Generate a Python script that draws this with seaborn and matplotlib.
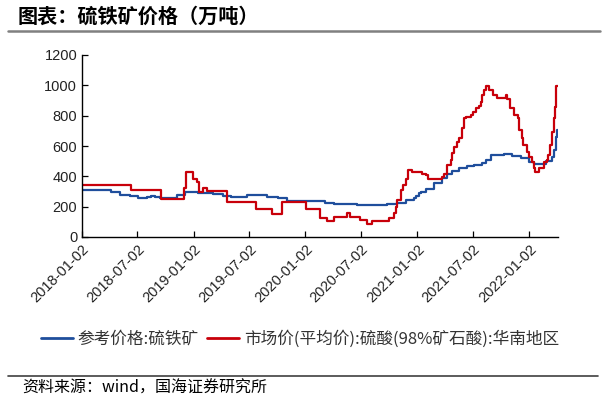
import matplotlib
matplotlib.use("Agg")
import matplotlib.pyplot as plt
import matplotlib.dates as mdates
from matplotlib.lines import Line2D
import pandas as pd
import seaborn as sns

# 参考价格:硫铁矿 (step breakpoints)
pyrite_dates = [
    "2018-01-02", "2018-04-08", "2018-05-05", "2018-06-07", "2018-07-04", "2018-08-01",
    "2018-08-17", "2018-08-27", "2018-09-13", "2018-11-08", "2018-12-04", "2019-01-17",
    "2019-02-07", "2019-03-05", "2019-04-07", "2019-05-05", "2019-06-24", "2019-08-30",
    "2019-10-05", "2019-11-02", "2020-01-07", "2020-03-06", "2020-04-03", "2020-06-19",
    "2020-09-26", "2020-10-28", "2020-11-25", "2020-12-22", "2020-12-28", "2021-01-08",
    "2021-01-14", "2021-01-30", "2021-02-26", "2021-03-23", "2021-04-09", "2021-04-25",
    "2021-05-17", "2021-06-14", "2021-07-05", "2021-08-02", "2021-08-13", "2021-08-29",
    "2021-10-11", "2021-11-07", "2021-12-05", "2022-01-02", "2022-01-19", "2022-02-27",
    "2022-03-19", "2022-03-23", "2022-03-29", "2022-04-04", "2022-04-06",
]
pyrite_values = [
    312, 297, 279, 270, 260, 266,
    270, 264, 255, 277, 295, 292,
    287, 281, 272, 266, 275, 266,
    255, 240, 237, 226, 217, 211,
    217, 226, 245, 255, 270, 288,
    299, 314, 354, 387, 415, 435,
    452, 468, 475, 490, 508, 540,
    547, 536, 518, 492, 483, 503,
    525, 573, 661, 705, 705,
]

# 市场价(平均价):硫酸(98%矿石酸):华南地区
acid_dates = [
    "2018-01-02", "2018-06-10", "2018-09-17", "2018-12-01", "2018-12-08", "2019-01-01",
    "2019-01-12", "2019-01-20", "2019-02-01", "2019-02-14", "2019-04-22", "2019-07-26",
    "2019-09-14", "2019-10-17", "2020-01-04", "2020-02-20", "2020-03-14", "2020-04-03",
    "2020-05-17", "2020-05-27", "2020-06-27", "2020-07-21", "2020-08-07", "2020-10-01",
    "2020-10-17", "2020-10-23", "2020-10-28", "2020-11-08", "2020-11-17", "2020-11-25",
    "2020-12-01", "2020-12-14", "2020-12-28", "2021-01-18", "2021-01-30", "2021-02-05",
    "2021-03-23", "2021-03-29", "2021-04-09", "2021-04-20", "2021-04-25", "2021-05-01",
    "2021-05-12", "2021-05-17", "2021-05-28", "2021-06-03", "2021-06-09", "2021-06-25",
    "2021-07-01", "2021-07-11", "2021-07-22", "2021-07-27", "2021-08-02", "2021-08-07",
    "2021-08-13", "2021-08-24", "2021-09-07", "2021-09-18", "2021-10-17", "2021-10-23",
    "2021-10-31", "2021-11-13", "2021-11-25", "2021-11-29", "2021-12-08", "2021-12-14",
    "2021-12-25", "2022-01-02", "2022-01-10", "2022-01-17", "2022-01-21", "2022-02-04",
    "2022-02-19", "2022-03-01", "2022-03-05", "2022-03-10", "2022-03-16", "2022-03-23",
    "2022-03-27", "2022-03-31", "2022-04-06",
]
acid_values = [
    345, 312, 250, 320, 430, 380,
    360, 300, 320, 303, 230, 182,
    154, 233, 185, 123, 107, 134,
    160, 130, 112, 86, 105, 123,
    156, 200, 244, 310, 345, 380,
    440, 430, 426, 415, 409, 382,
    393, 413, 475, 508, 552, 596,
    628, 650, 720, 782, 793, 804,
    826, 852, 866, 892, 936, 969,
    995, 969, 936, 914, 936, 910,
    848, 804, 782, 705, 650, 606,
    562, 529, 492, 457, 426, 457,
    492, 508, 540, 606, 694, 782,
    859, 995, 995,
]

series_names = ["参考价格:硫铁矿", "市场价(平均价):硫酸(98%矿石酸):华南地区"]
series_colors = ["#1F4E9C", "#C8000A"]
tick_dates = ["2018-01-02", "2018-07-02", "2019-01-02", "2019-07-02", "2020-01-02",
              "2020-07-02", "2021-01-02", "2021-07-02", "2022-01-02"]
y_ticks = [0, 200, 400, 600, 800, 1000, 1200]

df = pd.concat([
    pd.DataFrame({"date": pd.to_datetime(pyrite_dates), "value": pyrite_values, "series": series_names[0]}),
    pd.DataFrame({"date": pd.to_datetime(acid_dates), "value": acid_values, "series": series_names[1]}),
])

sns.set_style("ticks")
plt.rcParams["font.family"] = ["Liberation Sans", "Noto Sans CJK SC", "DejaVu Sans"]
cjk = ["Noto Sans CJK SC", "DejaVu Sans"]

fig = plt.figure(figsize=(6.07, 3.98), dpi=100)
ax = fig.add_axes([82 / 607, 1 - 237 / 398, (558 - 82) / 607, (237 - 55) / 398])

sns.lineplot(data=df, x="date", y="value", hue="series", hue_order=series_names,
             palette=series_colors, drawstyle="steps-post", linewidth=1.6,
             estimator=None, ax=ax, legend=False)

ax.set_xlim(pd.Timestamp("2018-01-02"), pd.Timestamp("2022-04-06"))
ax.set_ylim(0, 1200)
ax.set_yticks(y_ticks)
ax.set_xticks(pd.to_datetime(tick_dates))
ax.xaxis.set_major_formatter(mdates.DateFormatter("%Y-%m-%d"))
ax.tick_params(direction="in", length=4, width=0.9, labelsize=10.5, colors="black",
               labelcolor="#222222")
plt.setp(ax.get_xticklabels(), rotation=45, ha="right", rotation_mode="anchor")
ax.set_xlabel("")
ax.set_ylabel("")
for side in ["top", "right"]:
    ax.spines[side].set_visible(False)
for side in ["left", "bottom"]:
    ax.spines[side].set_linewidth(1.0)
    ax.spines[side].set_color("black")

handles = [Line2D([], [], color=c, linewidth=2) for c in series_colors]
fig.legend(handles, series_names, loc="center", bbox_to_anchor=(300 / 607, 1 - 339 / 398),
           ncol=2, frameon=False, handlelength=1.9, handletextpad=0.3, columnspacing=0.5,
           prop={"family": cjk, "size": 12}, labelcolor="#333333")

fig.text(18 / 607, 1 - 16 / 398, "图表：硫铁矿价格（万吨）", family=cjk, fontsize=14.5,
         fontweight="bold", va="center", ha="left", color="black")
fig.add_artist(Line2D([8 / 607, 600 / 607], [1 - 31 / 398] * 2, color="#808080", linewidth=1.8))
fig.add_artist(Line2D([8 / 607, 598 / 607], [1 - 376 / 398] * 2, color="#404040", linewidth=1.2))
fig.text(22 / 607, 1 - 388 / 398, "资料来源：wind，国海证券研究所", family=cjk, fontsize=11.5,
         style="italic", va="center", ha="left", color="black")

fig.savefig("out.png", dpi=100)
